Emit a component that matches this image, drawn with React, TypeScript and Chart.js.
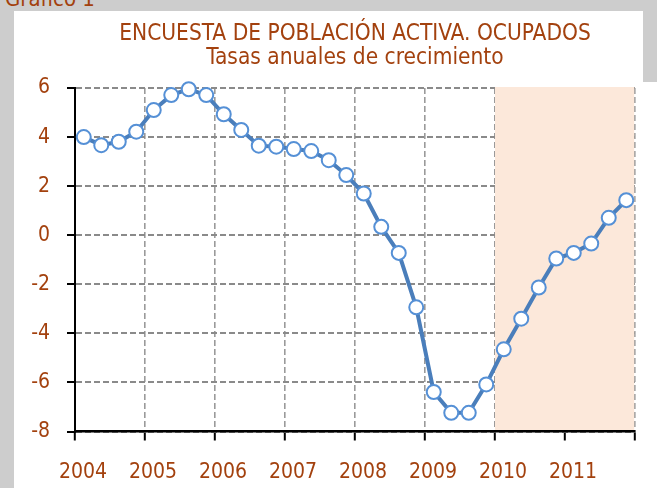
import React, { useEffect, useRef } from "react";
import { Chart, registerables } from "chart.js";

Chart.register(...registerables);

// ---- data ----
const years = [2004, 2005, 2006, 2007, 2008, 2009, 2010, 2011];
const quarters = ["I", "II", "III", "IV"];
const ocupados = [
  4.0, 3.67, 3.81, 4.22,
  5.1, 5.71, 5.95, 5.71,
  4.93, 4.29, 3.65, 3.61,
  3.51, 3.43, 3.06, 2.45,
  1.7, 0.34, -0.72, -2.94,
  -6.39, -7.24, -7.24, -6.08,
  -4.65, -3.4, -2.13, -0.95,
  -0.72, -0.34, 0.71, 1.43,
];
const yMin = -8;
const yMax = 6;
const yStep = 2;
const xFirstYear = 2004;
const xLastYear = 2012;
const shadeStartYear = 2010;
const titleLines = ["ENCUESTA DE POBLACIÓN ACTIVA. OCUPADOS", "Tasas anuales de crecimiento"];
const chartCaption = "Gráfico 1";

const FONT = "'DejaVu Sans Condensed', 'DejaVu Sans', sans-serif";
const TEXT_COLOR = "#A3410E";

const shadePlugin = {
  id: "shade",
  beforeDatasetsDraw(chart: any) {
    const { ctx, chartArea, scales } = chart;
    const x = scales.x;
    const x0 = x.getPixelForValue(shadeStartYear);
    const x1 = x.getPixelForValue(x.max) - 0.8;
    ctx.save();
    ctx.fillStyle = "#FCE8DA";
    ctx.fillRect(x0, chartArea.top - 1, x1 - x0, chartArea.bottom - chartArea.top - 0.5);
    ctx.restore();
  },
};

export default function App() {
  const ref = useRef<HTMLCanvasElement>(null);

  useEffect(() => {
    if (!ref.current) return;
    const points: { x: number; y: number; q: string }[] = [];
    years.forEach((yr, yi) => {
      quarters.forEach((q, qi) => {
        points.push({ x: yr + (qi + 0.5) / quarters.length, y: ocupados[yi * quarters.length + qi], q: `${yr}-${q}` });
      });
    });

    const chart = new Chart(ref.current, {
      type: "line",
      data: {
        datasets: [
          {
            label: "Ocupados",
            data: points,
            borderColor: "#4A7EBB",
            borderWidth: 4,
            pointRadius: 7,
            pointBackgroundColor: "#FFFFFF",
            pointBorderColor: "#5590D6",
            pointBorderWidth: 2,
            tension: 0,
            clip: false,
          } as any,
        ],
      },
      options: {
        responsive: false,
        animation: false,
        devicePixelRatio: 1,
        layout: { padding: { left: 0, right: 22, top: 0, bottom: 0 } },
        font: { family: FONT },
        plugins: {
          legend: { display: false },
          tooltip: { enabled: false },
          title: {
            display: true,
            text: titleLines,
            color: TEXT_COLOR,
            fullSize: false,
            font: { family: FONT, size: 22.5, weight: "normal", lineHeight: "24px" } as any,
            padding: { top: 11, bottom: 18 },
          },
        },
        scales: {
          x: {
            type: "linear",
            min: xFirstYear,
            max: xLastYear,
            afterFit: (s: any) => {
              s.height = 56.5;
            },
            ticks: {
              stepSize: 1,
              autoSkip: false,
              maxRotation: 0,
              color: TEXT_COLOR,
              font: { family: FONT, size: 21 },
              padding: 19,
              labelOffset: 8,
              callback: (v: any) => (Number(v) >= xLastYear ? "" : String(v)),
            },
            grid: {
              color: "#9A9A9A",
              lineWidth: 1.6,
              tickColor: "#000000",
              tickLength: 9,
              tickWidth: 2,
            },
            border: { display: true, color: "#000000", width: 2.5, dash: [6, 3] },
          },
          y: {
            type: "linear",
            min: yMin,
            max: yMax,
            afterFit: (s: any) => {
              s.width = 61;
            },
            ticks: {
              stepSize: yStep,
              color: TEXT_COLOR,
              font: { family: FONT, size: 21 },
              padding: 17,
            },
            grid: {
              color: "#8A8A8A",
              lineWidth: 2,
              tickColor: "#000000",
              tickLength: 8,
              tickWidth: 2,
            },
            border: { display: true, color: "#000000", width: 2, dash: [6, 3] },
          },
        },
      },
      plugins: [shadePlugin],
    });
    return () => chart.destroy();
  }, []);

  return (
    <div
      style={{
        position: "absolute",
        left: 0,
        top: 0,
        width: 657,
        height: 488,
        overflow: "hidden",
        background: "#CDCDCD",
      }}
    >
      <div
        style={{
          position: "absolute",
          left: 5,
          top: -12.5,
          fontFamily: FONT,
          fontSize: 22,
          lineHeight: 1,
          color: TEXT_COLOR,
          whiteSpace: "nowrap",
        }}
      >
        {chartCaption}
      </div>
      <div style={{ position: "absolute", left: 14, top: 11, width: 643, height: 477, background: "#FFFFFF" }}>
        <canvas ref={ref} width={643} height={477} style={{ display: "block" }} />
      </div>
      <div style={{ position: "absolute", left: 643, top: 0, width: 14, height: 82, background: "#CDCDCD" }} />
    </div>
  );
}
